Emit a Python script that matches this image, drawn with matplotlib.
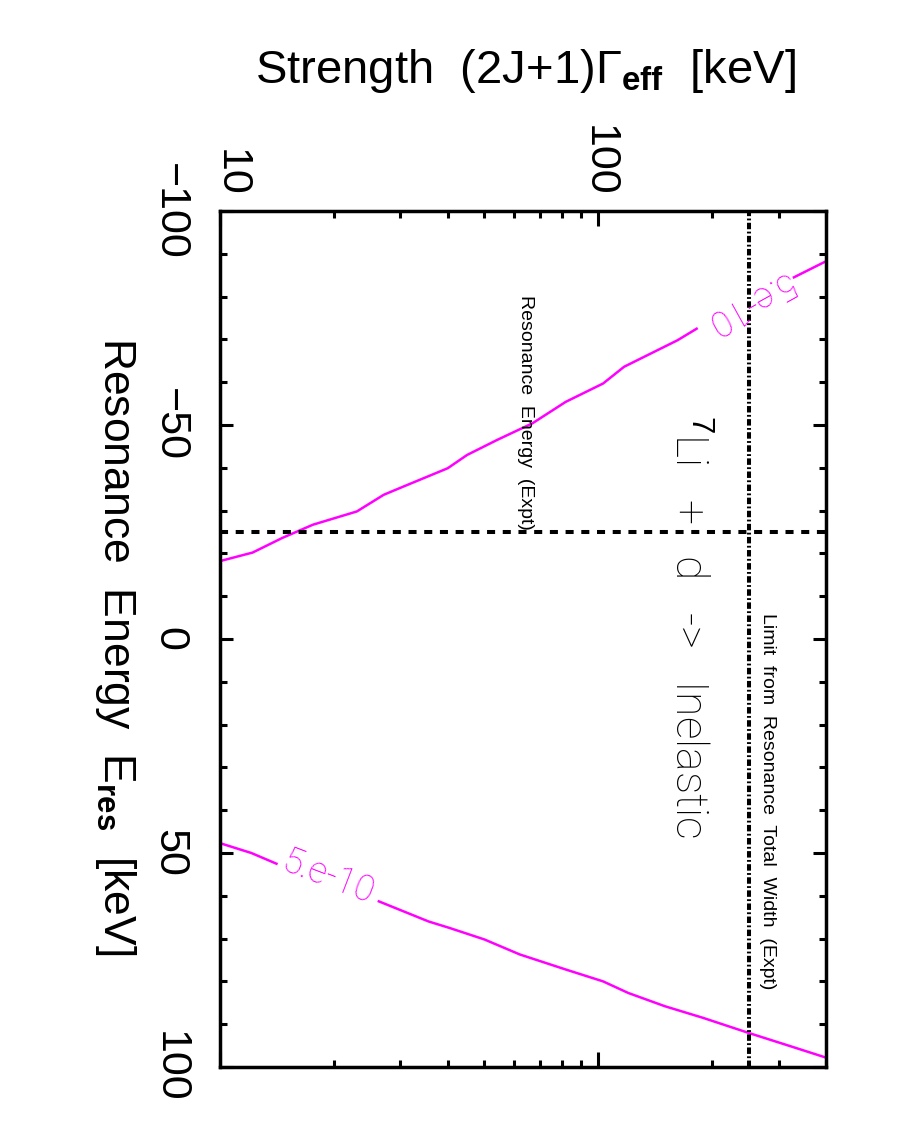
import numpy as np
import matplotlib
matplotlib.use('Agg')
from matplotlib import pyplot as plt
from matplotlib.ticker import NullFormatter
import matplotlib.transforms as mtransforms

# 5.e-10 contour, two branches; each branch is split where its label sits
branch1_top_e = [-88.4, -84.5]
branch1_top_s = [403, 329]
branch1_e = [-72.5, -69.8, -63.6, -59.7, -55.4, -50.4, -46.5, -43.0, -39.9,
             -35.7, -33.7, -29.8, -26.7, -23.6, -20.2, -18.2]
branch1_s = [182, 162, 117, 103, 82, 67, 54, 45, 40,
             30.7, 27.1, 23.0, 17.6, 14.6, 12.2, 10]
branch2_low_e = [47.7, 50.0, 52.5]
branch2_low_s = [10, 12.1, 14.1]
branch2_e = [61.3, 66.0, 67.5, 70.2, 73.7, 77.2, 80.0, 82.7, 85.8, 88.5,
             92.0, 95.1, 97.9]
branch2_s = [26.3, 35.6, 40.4, 50, 62, 81.9, 103, 120, 150, 189,
             249, 321, 403]
contour_label = '5.e-10'

resonance_energy_expt = -25   # keV
total_width_limit = 250       # keV

energy_ticks = [-100, -50, 0, 50, 100]
energy_minor = np.arange(-100, 101, 10)
strength_ticks = [10, 100]
strength_ticklabels = ['10', '100']

magenta = '#ff00ff'
main_font = 'Liberation Sans'
thin_font = ['Roboto', 'DejaVu Sans']

plt.rcParams['font.family'] = [main_font, 'DejaVu Sans']
plt.rcParams['mathtext.fontset'] = 'custom'
plt.rcParams['mathtext.rm'] = main_font
plt.rcParams['mathtext.it'] = main_font + ':italic'
plt.rcParams['mathtext.bf'] = main_font + ':bold'

fig = plt.figure(figsize=(9, 11.32), dpi=100)
ax = fig.add_axes([220 / 900, 1 - 1067 / 1132, 606 / 900, 856 / 1132])

# plot drawn "landscape" and turned a quarter: strength runs across, energy down
ax.plot(branch1_top_s, branch1_top_e, color=magenta, lw=1.8)
ax.plot(branch1_s, branch1_e, color=magenta, lw=1.8)
ax.plot(branch2_low_s, branch2_low_e, color=magenta, lw=1.8)
ax.plot(branch2_s, branch2_e, color=magenta, lw=1.8)

ax.axhline(resonance_energy_expt, color='k', lw=2.9, dashes=(2, 1.9))
ax.axvline(total_width_limit, color='k', lw=2.9, dashes=(1.6, 0.6, 0.45, 0.6))

ax.set_xscale('log')
ax.set_xlim(10, 400)
ax.set_ylim(100, -100)

ax.set_xticks(strength_ticks, labels=strength_ticklabels)
ax.xaxis.set_minor_formatter(NullFormatter())
ax.set_yticks(energy_ticks)
ax.set_yticks(energy_minor, minor=True)

ax.xaxis.set_ticks_position('both')
ax.yaxis.set_ticks_position('both')
ax.tick_params(axis='x', which='both', labeltop=True, labelbottom=False)
ax.tick_params(which='both', direction='in', width=2.2, labelsize=31,
               labelrotation=-90)
ax.tick_params(axis='x', which='major', length=10.8, pad=10)
ax.tick_params(axis='y', which='major', length=9.4, pad=22)
ax.tick_params(which='minor', length=5)
for lab in ax.get_yticklabels():
    lab.set_va('center')
for sp in ax.spines.values():
    sp.set_linewidth(2.5)

# the "10" label sits a little right of its tick in the original
first = ax.xaxis.get_major_ticks()[0].label2
first.set_transform(first.get_transform()
                    + mtransforms.ScaledTranslation(0.11, 0, fig.dpi_scale_trans))

fig.text(525 / 900, 1 - 83 / 1132,
         r'Strength  (2J+1)$\Gamma_{\mathbf{eff}}$  [keV]',
         fontsize=34, ha='center', va='baseline')
fig.text(104 / 900, 1 - 646 / 1132,
         r'Resonance  Energy  E$_{\mathbf{res}}$  [keV]',
         fontsize=32, rotation=-90, rotation_mode='anchor',
         ha='center', va='baseline')

ax.text(159, -2.8, r'$^{7}$Li   +   d   ->   Inelastic', family=thin_font,
        fontweight='light', fontsize=32, rotation=-90,
        rotation_mode='anchor', ha='center', va='baseline')
ax.text(62.5, -53, 'Resonance  Energy  (Expt)', fontsize=14, rotation=-90,
        rotation_mode='anchor', ha='center', va='baseline')
ax.text(273, 38, 'Limit  from  Resonance  Total  Width  (Expt)', fontsize=14,
        rotation=-90, rotation_mode='anchor', ha='center', va='baseline')

ax.text(247, -78.5, contour_label, color=magenta, family=thin_font,
        fontweight='light', fontsize=26, rotation=209,
        rotation_mode='anchor', ha='center', va='center')
ax.text(19.3, 55.8, contour_label, color=magenta, family=thin_font,
        fontweight='light', fontsize=26, rotation=-21,
        rotation_mode='anchor', ha='center', va='center')

fig.savefig('out.png', dpi=100)
